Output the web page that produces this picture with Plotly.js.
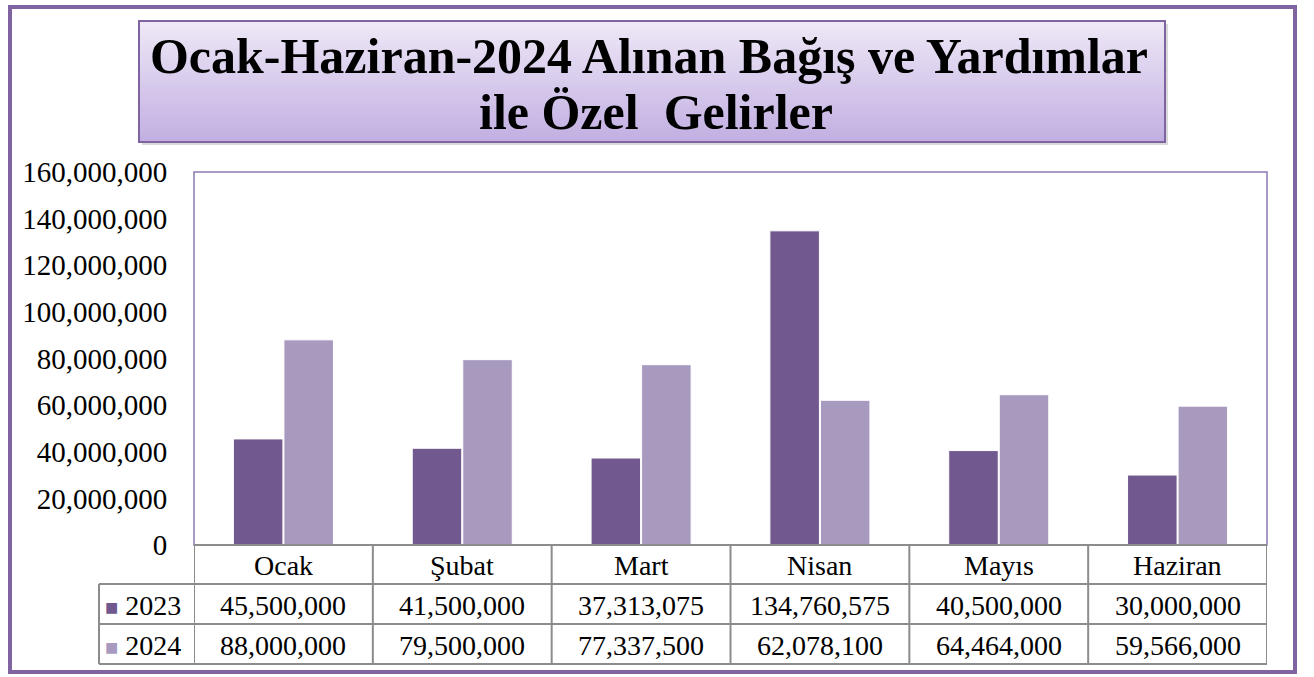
<!DOCTYPE html>
<html>
<head>
<meta charset="utf-8">
<script src="https://cdn.plot.ly/plotly-3.0.1.min.js"></script>
<style>
html,body{margin:0;padding:0;background:#fff;}
#chart{width:1314px;height:677px;}
</style>
</head>
<body>
<div id="chart"></div>
<script>
const categories = ["Ocak", "Şubat", "Mart", "Nisan", "Mayıs", "Haziran"];
const seriesNames = ["2023", "2024"];
const values2023 = [45500000, 41500000, 37313075, 134760575, 40500000, 30000000];
const values2024 = [88000000, 79500000, 77337500, 62078100, 64464000, 59566000];
const yTickValues = [0, 20000000, 40000000, 60000000, 80000000, 100000000, 120000000, 140000000, 160000000];
const titleLine1 = "Ocak-Haziran-2024 Alınan Bağış ve Yardımlar";
const titleLine2 = "ile Özel  Gelirler";

const W = 1314, H = 677;
const mL = 194, mR = 47, mT = 172, mB = 132;
const pw = W - mL - mR, ph = H - mT - mB;
const px = x => (x - mL) / pw;          // pixel -> paper x
const py = y => (H - mB - y) / ph;      // pixel -> paper y

const c2023 = "#71588f", c2024 = "#a899bf";
const fontSerif = "Liberation Serif, Times New Roman, serif";
const fmt = v => v.toLocaleString("en-US");

const traces = [
  {type: "bar", name: seriesNames[0], x: categories, y: values2023,
   marker: {color: c2023, line: {color: "#ffffff", width: 1}}, hoverinfo: "x+y"},
  {type: "bar", name: seriesNames[1], x: categories, y: values2024,
   marker: {color: c2024, line: {color: "#ffffff", width: 1}}, hoverinfo: "x+y"}
];

const shapes = [];
const annotations = [];

// outer border
shapes.push({type: "rect", xref: "paper", yref: "paper", layer: "below",
  x0: px(10), x1: px(1295), y0: py(672), y1: py(7),
  line: {color: "#8064a2", width: 4}, fillcolor: "rgba(0,0,0,0)"});

// title box shadow
shapes.push({type: "rect", xref: "paper", yref: "paper", layer: "below",
  x0: px(142), x1: px(1168), y0: py(145), y1: py(24),
  line: {width: 0}, fillcolor: "rgba(0,0,0,0.15)"});
// title box gradient strips
const tbX0 = 139, tbX1 = 1165, tbY0 = 21, tbY1 = 142, nStrips = 40;
const gradTop = [238, 232, 247], gradBot = [194, 175, 226];
for (let i = 0; i < nStrips; i++) {
  const t = i / (nStrips - 1);
  const c = gradTop.map((v, k) => Math.round(v + (gradBot[k] - v) * t));
  const ya = tbY0 + (tbY1 - tbY0) * i / nStrips;
  const yb = tbY0 + (tbY1 - tbY0) * (i + 1) / nStrips;
  shapes.push({type: "rect", xref: "paper", yref: "paper", layer: "below",
    x0: px(tbX0), x1: px(tbX1), y0: py(yb + 0.5), y1: py(ya),
    line: {width: 0}, fillcolor: `rgb(${c[0]},${c[1]},${c[2]})`});
}
shapes.push({type: "rect", xref: "paper", yref: "paper", layer: "below",
  x0: px(tbX0), x1: px(tbX1), y0: py(tbY1), y1: py(tbY0),
  line: {color: "#8064a2", width: 2}, fillcolor: "rgba(0,0,0,0)"});

// plot area border
shapes.push({type: "rect", xref: "paper", yref: "paper", layer: "above",
  x0: 0, x1: 1, y0: 0, y1: 1, line: {color: "#8f78b3", width: 1.5}});

// data table
const rowY = [545, 584, 624, 664];
const tblCol = "#8c8c8c";
const tblLeft = 99;
const tblFont = {family: fontSerif, size: 28, color: "#000"};
shapes.push({type: "line", xref: "paper", yref: "paper", x0: 0, x1: 1, y0: py(rowY[0]), y1: py(rowY[0]), line: {color: tblCol, width: 2}});
for (let r = 1; r < rowY.length; r++) {
  shapes.push({type: "line", xref: "paper", yref: "paper", x0: px(tblLeft), x1: 1,
    y0: py(rowY[r]), y1: py(rowY[r]), line: {color: tblCol, width: 2}});
}
for (let i = 0; i <= categories.length; i++) {
  shapes.push({type: "line", xref: "x", yref: "paper", x0: i - 0.5, x1: i - 0.5,
    y0: py(rowY[0]), y1: py(rowY[3]), line: {color: tblCol, width: 2}});
}
shapes.push({type: "line", xref: "paper", yref: "paper", x0: px(tblLeft), x1: px(tblLeft),
  y0: py(rowY[1]), y1: py(rowY[3]), line: {color: tblCol, width: 2}});

categories.forEach((c, i) => {
  annotations.push({xref: "x", yref: "paper", x: i, y: py((rowY[0] + rowY[1]) / 2 + 1),
    text: c, showarrow: false, xanchor: "center", yanchor: "middle", font: tblFont});
});
[values2023, values2024].forEach((arr, r) => {
  arr.forEach((v, i) => {
    annotations.push({xref: "x", yref: "paper", x: i, y: py((rowY[r + 1] + rowY[r + 2]) / 2 + 1),
      text: fmt(v), showarrow: false, xanchor: "center", yanchor: "middle", font: tblFont});
  });
});
[[seriesNames[0], c2023], [seriesNames[1], c2024]].forEach(([n, col], r) => {
  annotations.push({xref: "paper", yref: "paper", x: px(103), y: py((rowY[r + 1] + rowY[r + 2]) / 2 + 1),
    text: `<span style="color:${col};font-size:22px">■</span> ${n}`, showarrow: false, xanchor: "left", yanchor: "middle",
    font: tblFont});
});

// second title line
const titleFont = {family: fontSerif, size: 50, color: "#000", weight: "bold"};
annotations.push({xref: "paper", yref: "paper", x: px(656), y: py(112), text: titleLine2,
  showarrow: false, xanchor: "center", yanchor: "middle", font: titleFont});

const layout = {
  width: W, height: H,
  margin: {l: mL, r: mR, t: mT, b: mB, pad: 0},
  paper_bgcolor: "#ffffff", plot_bgcolor: "rgba(0,0,0,0)",
  showlegend: false,
  bargap: 0.435, bargroupgap: 0.02,
  title: {text: titleLine1, xref: "container", yref: "container", x: 649 / W, y: 1 - 55 / H,
    xanchor: "center", yanchor: "middle", font: titleFont},
  xaxis: {type: "category", showticklabels: false, showgrid: false, zeroline: false,
    showline: false, ticks: "", range: [-0.5, categories.length - 0.5], fixedrange: true},
  yaxis: {range: [0, 160000000], tickvals: yTickValues, ticktext: yTickValues.map(fmt),
    showgrid: false, zeroline: false, showline: false,
    ticks: "outside", ticklen: 20, tickcolor: "rgba(0,0,0,0)",
    tickfont: {family: fontSerif, size: 29, color: "#000"}, fixedrange: true},
  shapes: shapes, annotations: annotations
};

Plotly.newPlot("chart", traces, layout, {displayModeBar: false, staticPlot: true});
</script>
</body>
</html>
